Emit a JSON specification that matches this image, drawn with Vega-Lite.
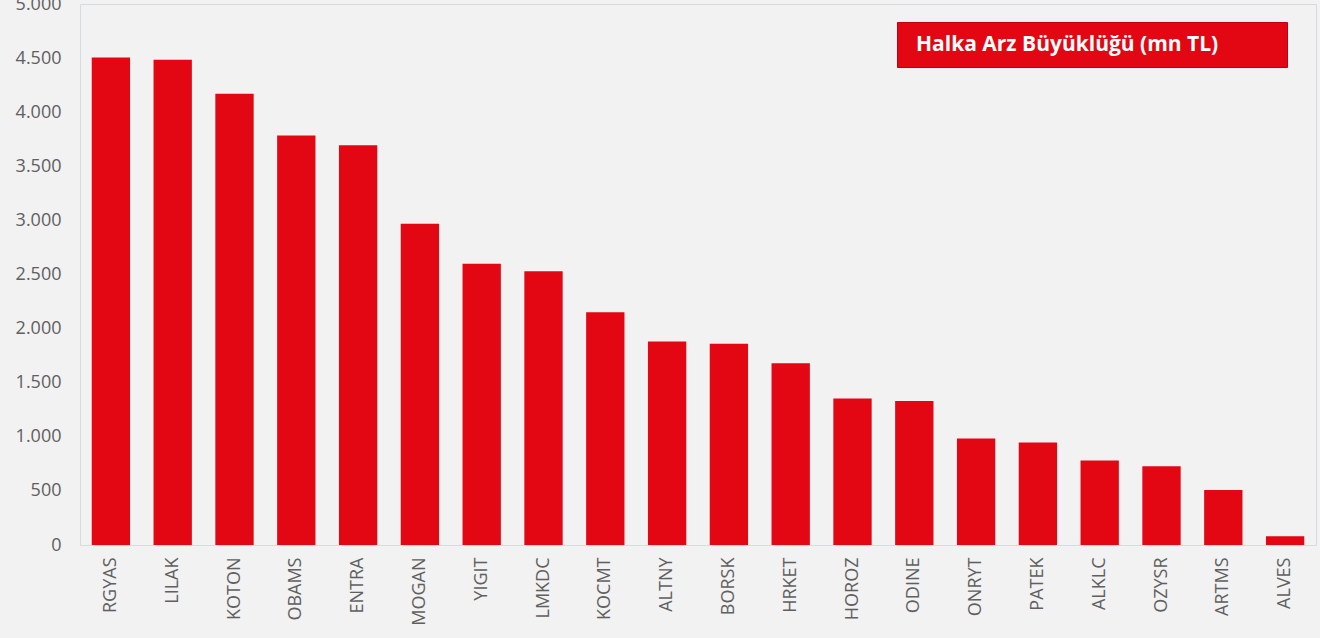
{
  "$schema": "https://vega.github.io/schema/vega-lite/v6.json",
  "autosize": {"type": "none"},
  "padding": {"left": 80, "top": 4, "right": 4, "bottom": 93},
  "width": 1236,
  "height": 541,
  "background": "#F2F2F2",
  "data": {
    "values": [
      {"kod": "RGYAS", "deger": 4505},
      {"kod": "LILAK", "deger": 4485},
      {"kod": "KOTON", "deger": 4170},
      {"kod": "OBAMS", "deger": 3785},
      {"kod": "ENTRA", "deger": 3695},
      {"kod": "MOGAN", "deger": 2970},
      {"kod": "YIGIT", "deger": 2600},
      {"kod": "LMKDC", "deger": 2530},
      {"kod": "KOCMT", "deger": 2150},
      {"kod": "ALTNY", "deger": 1880},
      {"kod": "BORSK", "deger": 1860},
      {"kod": "HRKET", "deger": 1680},
      {"kod": "HOROZ", "deger": 1355},
      {"kod": "ODINE", "deger": 1330},
      {"kod": "ONRYT", "deger": 985},
      {"kod": "PATEK", "deger": 948},
      {"kod": "ALKLC", "deger": 782},
      {"kod": "OZYSR", "deger": 728},
      {"kod": "ARTMS", "deger": 508},
      {"kod": "ALVES", "deger": 80}
    ]
  },
  "mark": {"type": "bar", "color": "#E30613"},
  "encoding": {
    "x": {
      "field": "kod",
      "type": "nominal",
      "sort": null,
      "scale": {"paddingInner": 0.38, "paddingOuter": 0.19},
      "axis": {
        "title": null,
        "labelAngle": -90,
        "labelAlign": "right",
        "labelBaseline": "middle",
        "labelPadding": 12,
        "ticks": false,
        "domain": false,
        "labelFont": "Open Sans",
        "labelFontSize": 18,
        "labelColor": "#606060"
      }
    },
    "y": {
      "field": "deger",
      "type": "quantitative",
      "scale": {"domain": [0, 5000], "nice": false},
      "axis": {
        "title": null,
        "values": [0, 500, 1000, 1500, 2000, 2500, 3000, 3500, 4000, 4500, 5000],
        "labelExpr": "replace(format(datum.value, ','), ',', '.')",
        "grid": false,
        "ticks": false,
        "domain": false,
        "labelPadding": 19,
        "labelFont": "Open Sans",
        "labelFontSize": 18,
        "labelColor": "#606060"
      }
    },
    "color": {
      "datum": "Halka Arz Büyüklüğü (mn TL)",
      "type": "nominal",
      "scale": {"range": ["#E30613"]},
      "legend": {
        "title": ".",
        "titleOrient": "right",
        "titleOpacity": 0,
        "titleFontSize": 10,
        "titlePadding": 54,
        "orient": "none",
        "legendX": 817,
        "legendY": 18,
        "fillColor": "#E30613",
        "strokeColor": "#C00010",
        "padding": 12,
        "symbolSize": 4,
        "symbolOpacity": 0,
        "symbolStrokeWidth": 0,
        "labelOffset": -14,
        "labelFont": "Open Sans",
        "labelFontWeight": "bold",
        "labelFontSize": 21,
        "labelColor": "#FFFFFF",
        "labelLimit": 600
      }
    }
  },
  "config": {
    "view": {"stroke": "#D5DBE2", "strokeWidth": 1}
  }
}
